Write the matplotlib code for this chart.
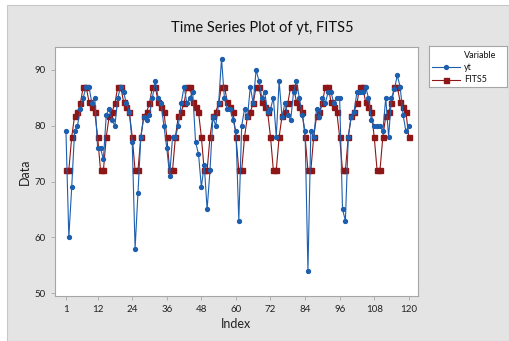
import matplotlib
matplotlib.use("Agg")
import matplotlib.pyplot as plt
from matplotlib.patches import Rectangle

plt.rcParams['font.family'] = ['Lato', 'DejaVu Sans']

# data
index = list(range(1, 121))
yt = [79, 60, 69, 79, 80, 83, 85, 87, 87, 84, 85, 76,
      76, 74, 82, 83, 81, 80, 85, 87, 86, 84, 82.5, 77,
      58, 68, 78, 81.5, 81, 82, 85, 88, 85, 84, 80, 76,
      71, 78, 78, 80, 84, 87, 84, 85, 86, 77, 75, 69,
      73, 65, 72, 81.5, 80, 84, 92, 85, 83, 83, 81, 79,
      63, 80, 83, 81.5, 87, 84, 90, 88, 85, 86, 82.5, 83,
      85, 78, 88, 81.5, 84, 82, 81, 86, 88, 85, 82, 79,
      54, 79, 78, 83, 81.5, 85, 84, 86, 86, 84, 85, 85,
      65, 63, 78, 81.5, 82.5, 86, 86, 86, 87, 85, 81, 80,
      80, 80, 79, 85, 78, 85, 86.5, 89, 87, 82, 79, 80]
fits5 = [72, 72, 78, 81.7, 82.5, 84, 87, 87, 84.3, 83.3, 82.5, 78,
         72, 72, 78, 81.7, 82.5, 84, 87, 87, 84.3, 83.3, 82.5, 78,
         72, 72, 78, 81.7, 82.5, 84, 87, 87, 84.3, 83.3, 82.5, 78,
         72, 72, 78, 81.7, 82.5, 84, 87, 87, 84.3, 83.3, 82.5, 78,
         72, 72, 78, 81.7, 82.5, 84, 87, 87, 84.3, 83.3, 82.5, 78,
         72, 72, 78, 81.7, 82.5, 84, 87, 87, 84.3, 83.3, 82.5, 78,
         72, 72, 78, 81.7, 82.5, 84, 87, 87, 84.3, 83.3, 82.5, 78,
         72, 72, 78, 81.7, 82.5, 84, 87, 87, 84.3, 83.3, 82.5, 78,
         72, 72, 78, 81.7, 82.5, 84, 87, 87, 84.3, 83.3, 82.5, 78,
         72, 72, 78, 81.7, 82.5, 84, 87, 87, 84.3, 83.3, 82.5, 78]
xticks = [1, 12, 24, 36, 48, 60, 72, 84, 96, 108, 120]
yticks = [50, 60, 70, 80, 90]

W, H = 509, 341
blue = '#1d5fae'
red = '#8e1616'
grid_gray = '#a6a6a6'

fig = plt.figure(figsize=(W / 100, H / 100), dpi=100, facecolor='white')
# grey panel behind everything
panel = Rectangle((7 / W, 0), 1 - 7 / W, (H - 5) / H, transform=fig.transFigure,
                  facecolor='#e4e4e4', edgecolor='#c8c8c8', lw=0.8, zorder=-10)
fig.add_artist(panel)

ax = fig.add_axes([55 / W, (H - 296) / H, 363 / W, 249 / H])
ax.set_facecolor('white')
ax.plot(index, yt, color=blue, lw=0.8, marker='o', ms=2.8, zorder=3)
ax.plot(index, fits5, color=red, lw=0.8, marker='s', ms=3.6, zorder=2)

ax.set_xlim(-2.8, 123.2)
ax.set_ylim(49.5, 94.1)
ax.set_xticks(xticks)
ax.set_yticks(yticks)
ax.tick_params(labelsize=7, colors='#222222', length=3, width=0.6)
ax.tick_params(axis='both', color=grid_gray)
for s in ax.spines.values():
    s.set_color(grid_gray)
    s.set_linewidth(0.8)
ax.set_xlabel('Index', fontsize=9, color='#222222', labelpad=3)
ax.set_ylabel('Data', fontsize=9, color='#222222', labelpad=3)

fig.text(262 / W, 1 - 28 / H, 'Time Series Plot of yt, FITS5', ha='center', va='center',
         fontsize=10.5, color='#111111')

# legend box
lg = fig.add_axes([429 / W, (H - 87) / H, 78 / W, 41 / H])
lg.set_xlim(0, 78)
lg.set_ylim(41, 0)
lg.set_xticks([])
lg.set_yticks([])
lg.set_facecolor('white')
for s in lg.spines.values():
    s.set_color(grid_gray)
    s.set_linewidth(0.8)
lg.text(35, 9, 'Variable', fontsize=6.5, va='center', ha='left', color='#111111')
lg.plot([3, 31], [21, 21], color=blue, lw=0.8)
lg.plot([17], [21], color=blue, lw=0, marker='o', ms=2.8)
lg.plot([3, 31], [34, 34], color=red, lw=0.8)
lg.plot([17], [34], color=red, lw=0, marker='s', ms=3.6)
lg.text(35, 21, 'yt', fontsize=6.5, va='center', ha='left', color='#111111')
lg.text(35, 34, 'FITS5', fontsize=6.5, va='center', ha='left', color='#111111')

fig.savefig('out.png', dpi=100, facecolor=fig.get_facecolor())
